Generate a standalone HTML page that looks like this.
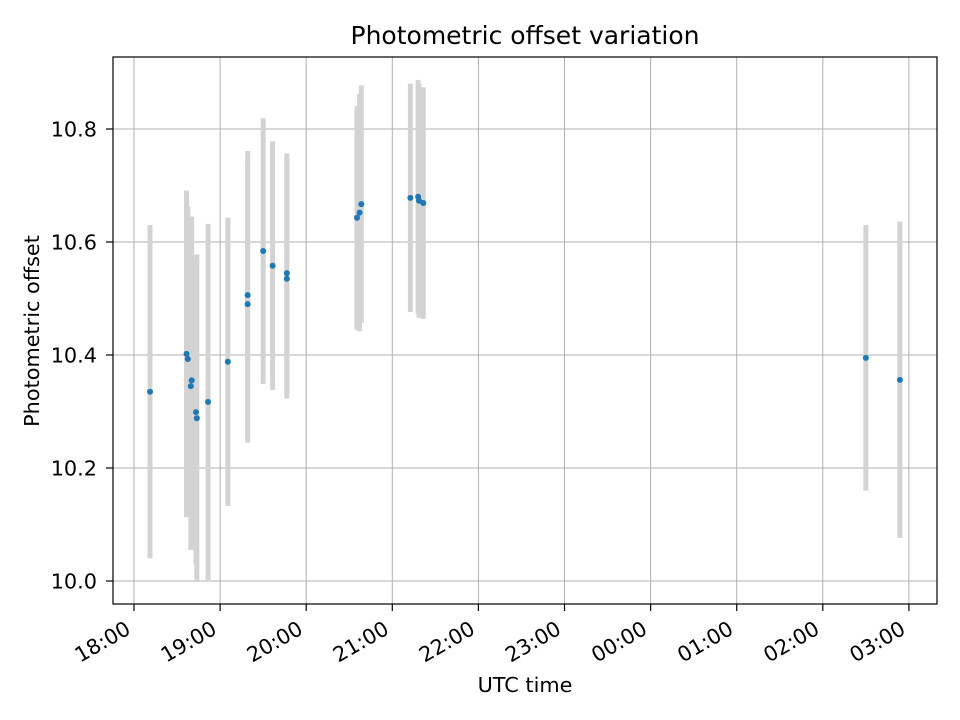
<!DOCTYPE html>
<html><head><meta charset="utf-8"><style>
body{margin:0;background:#fff;}
svg{display:block;font-family:"DejaVu Sans","Liberation Sans",sans-serif;}
</style></head><body>
<svg id="chart" width="960" height="720" viewBox="0 0 960 720" xmlns="http://www.w3.org/2000/svg">
<rect x="0" y="0" width="960" height="720" fill="#fff"/>
<g id="grid"></g>
<g id="bars"></g>
<g id="pts"></g>
<rect x="113" y="57" width="824" height="547" fill="none" stroke="#000" stroke-width="1.2"/>
<g id="ticks"></g>
<text x="525" y="44" font-size="25" text-anchor="middle">Photometric offset variation</text>
<text x="525" y="692" font-size="20.8" text-anchor="middle">UTC time</text>
<text x="39" y="331" font-size="20.8" text-anchor="middle" transform="rotate(-90 39 331)">Photometric offset</text>
</svg>
<script>
// hours after 18:00 UTC
const times = [0.186,0.61,0.625,0.67,0.66,0.72,0.73,0.86,1.09,1.32,1.32,1.50,1.61,1.775,1.775,2.59,2.62,2.64,3.21,3.30,3.31,3.36,8.50,8.895];
const values = [10.335,10.402,10.393,10.355,10.345,10.299,10.288,10.317,10.388,10.506,10.49,10.584,10.558,10.545,10.535,10.643,10.652,10.667,10.678,10.68,10.673,10.669,10.395,10.356];
const errors = [0.295,0.289,0.27,0.29,0.29,0.27,0.29,0.315,0.255,0.255,0.245,0.235,0.22,0.212,0.212,0.198,0.21,0.21,0.202,0.207,0.207,0.205,0.235,0.28];
const xTickLabels = ["18:00","19:00","20:00","21:00","22:00","23:00","00:00","01:00","02:00","03:00"];
const yTicks = [10.0,10.2,10.4,10.6,10.8];

const NS="http://www.w3.org/2000/svg";
const X0=113,X1=937,Y0=57,Y1=604;
function xs(h){return 134+h*86.1;}
function ys(v){return 581-(v-10)*565;}
function mk(tag,attrs,parent){const e=document.createElementNS(NS,tag);for(const k in attrs)e.setAttribute(k,attrs[k]);parent.appendChild(e);return e;}
const grid=document.getElementById('grid'),ticks=document.getElementById('ticks'),bars=document.getElementById('bars'),pts=document.getElementById('pts');
xTickLabels.forEach((lab,i)=>{
  const x=xs(i);
  const g=mk('line',{x1:x,x2:x,y1:Y0,y2:Y1,stroke:'#b0b0b0','stroke-width':1},grid);
  
  
  const t=mk('line',{x1:x,x2:x,y1:Y1,y2:Y1+7,stroke:'#000','stroke-width':1.2},ticks);
  
  
  const tx=mk('text',{x:0,y:16,'font-size':20.8,'text-anchor':'end',transform:`translate(${x-10} ${Y1+15}) rotate(-30)`},ticks);
  tx.textContent=lab;
  
  
});
yTicks.forEach(v=>{
  const y=ys(v);
  const g=mk('line',{x1:X0,x2:X1,y1:y,y2:y,stroke:'#b0b0b0','stroke-width':1},grid);
  
  
  const t=mk('line',{x1:X0-7,x2:X0,y1:y,y2:y,stroke:'#000','stroke-width':1.2},ticks);
  
  
  const tx=mk('text',{x:97,y:y+7.5,'font-size':20.8,'text-anchor':'end'},ticks);
  tx.textContent=v.toFixed(1);
  
  
});
times.forEach((h,i)=>{
  const x=xs(h);
  let yt=Math.max(ys(values[i]+errors[i]),Y0),yb=Math.min(ys(values[i]-errors[i]),Y1);
  const b=mk('line',{x1:x,x2:x,y1:yt,y2:yb,stroke:'#d3d3d3','stroke-width':5},bars);
  
  
  const c=mk('circle',{cx:x,cy:ys(values[i]),r:3,fill:'#1f77b4'},pts);
  
  
});
</script>
</body></html>
